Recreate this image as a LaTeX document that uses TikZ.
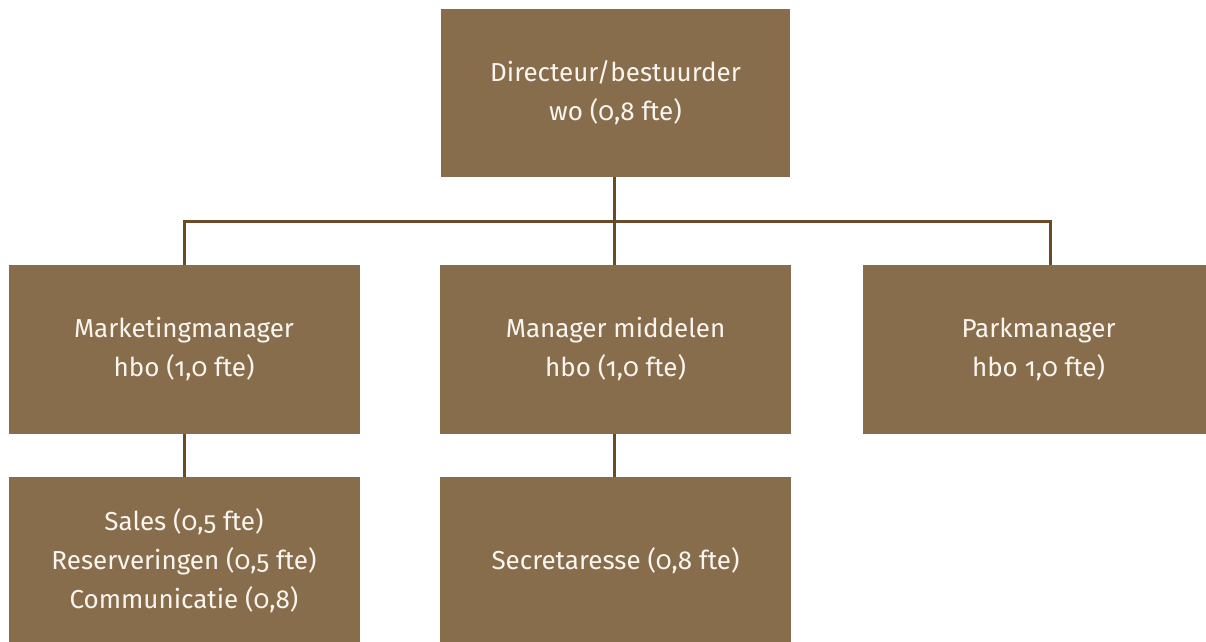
\documentclass[tikz,border=0pt]{standalone}
\usepackage{fontspec}
\setmainfont{Fira Sans}[Numbers=OldStyle]
\definecolor{boxfill}{HTML}{886D4D}
\definecolor{linecol}{HTML}{6B4A28}
\definecolor{txtcol}{HTML}{FAF6EF}
\newcommand\boxtext[2]{\raisebox{#1}{\begin{tabular}{@{}c@{}}#2\end{tabular}}}
\begin{document}
\begin{tikzpicture}[x=1pt,y=-1pt,
  orgbox/.style={rectangle, fill=boxfill, inner sep=0pt, outer sep=0pt,
    minimum width=351pt, minimum height=169pt,
    text=txtcol, font=\fontsize{26}{39}\selectfont},
  conn/.style={draw=linecol, line width=3pt, line join=miter}]
\useasboundingbox (0,0) rectangle (1206,641);
\clip (0,0) rectangle (1206,641);
\node[orgbox, minimum width=349pt, minimum height=168pt] (top) at (615.5,93) {\boxtext{4pt}{Directeur/bestuurder\\wo (0,8 fte)}};
\node[orgbox] (mk) at (184,349.5) {\boxtext{5pt}{Marketingmanager\\hbo (1,0 fte)}};
\node[orgbox] (mid) at (615.5,349.5) {\boxtext{5pt}{Manager middelen\\hbo (1,0 fte)}};
\node[orgbox] (pk) at (1038.5,349.5) {\boxtext{5pt}{Parkmanager\\hbo 1,0 fte)}};
\node[orgbox] (sales) at (184,561.5) {\boxtext{2pt}{Sales (0,5 fte)\\Reserveringen (0,5 fte)\\Communicatie (0,8)}};
\node[orgbox] (sec) at (615.5,561.5) {\boxtext{4pt}{Secretaresse (0,8 fte)}};
\coordinate (bus) at (614,221);
\coordinate (pktop) at (1050,265);
\draw[conn] (mk.north) |- (bus) -| (pktop);
\draw[conn] (top.south -| bus) -- (mid.north -| bus);
\draw[conn] (mk.south) -- (sales.north);
\draw[conn] (mid.south -| bus) -- (sec.north -| bus);
\end{tikzpicture}
\end{document}
